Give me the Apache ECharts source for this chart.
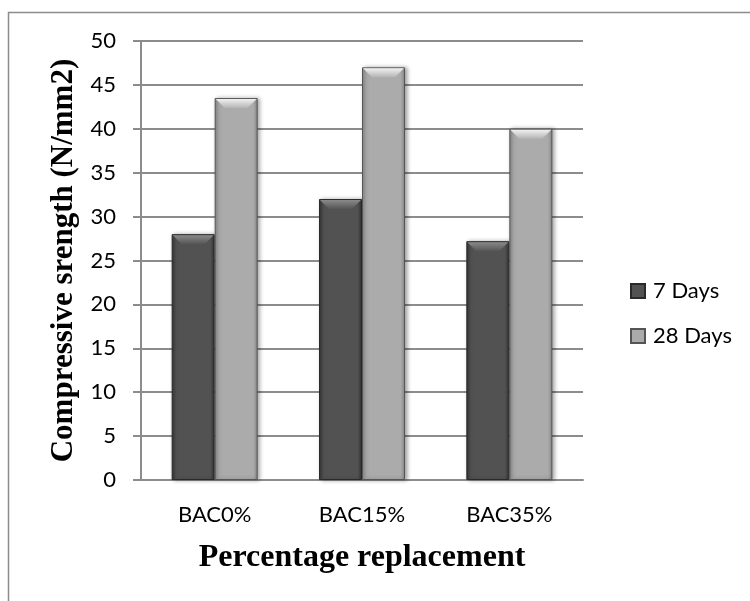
<!DOCTYPE html>
<html>
<head>
<meta charset="utf-8">
<script src="https://cdn.jsdelivr.net/npm/echarts@6/dist/echarts.min.js"></script>
<style>
  html, body { margin: 0; padding: 0; background: #fff; }
  #chart { width: 750px; height: 601px; }
</style>
</head>
<body>
<div id="chart"></div>
<script>
// Compressive strength of concrete mixes by bacteria replacement level
var categories = ['BAC0%', 'BAC15%', 'BAC35%'];
var days7 = [28, 32, 27.2];
var days28 = [43.5, 47, 40];
var yTicks = { min: 0, max: 50, interval: 5 };
var seriesNames = ['7 Days', '28 Days'];

var BAR_W = 43;

var chart = echarts.init(document.getElementById('chart'));

function barFill(edge, mid) {
  return new echarts.graphic.LinearGradient(0, 0, 1, 0, [
    { offset: 0, color: edge },
    { offset: 0.1, color: mid },
    { offset: 0.9, color: mid },
    { offset: 1, color: edge }
  ]);
}

// Bevelled cap drawn on top of each bar; side: -1 = left bar of the pair, +1 = right bar
function bevelSeries(values, side, topColor, bottomColor) {
  return {
    type: 'custom',
    silent: true,
    z: 3,
    data: values.map(function (v, i) { return [i, v]; }),
    encode: { x: 0, y: 1 },
    renderItem: function (params, api) {
      var c = api.coord([api.value(0), api.value(1)]);
      var x0 = side < 0 ? c[0] - BAR_W : c[0];
      var x1 = x0 + BAR_W;
      var y = c[1];
      var b = 10;
      return {
        type: 'polygon',
        shape: { points: [[x0 + 1, y + 1], [x1 - 1, y + 1], [x1 - b, y + b], [x0 + b, y + b]] },
        style: {
          fill: new echarts.graphic.LinearGradient(0, 0, 0, 1, [
            { offset: 0, color: topColor },
            { offset: 1, color: bottomColor }
          ])
        }
      };
    }
  };
}

var option = {
  backgroundColor: '#fff',
  animation: false,
  grid: { left: 141, right: 167, top: 41, bottom: 121 },
  graphic: [{
    type: 'rect',
    shape: { x: 8.5, y: 12.5, width: 900, height: 800 },
    style: { fill: 'none', stroke: '#8c8c8c', lineWidth: 1.5 },
    z: -1
  }],
  legend: {
    data: seriesNames,
    orient: 'vertical',
    left: 625,
    top: 275,
    icon: 'rect',
    itemWidth: 14,
    itemHeight: 14,
    itemGap: 23,
    textStyle: { fontFamily: 'Lato', fontSize: 22, lineHeight: 22, color: '#000', padding: [0, 0, 0, 3] }
  },
  xAxis: {
    type: 'category',
    data: categories,
    name: 'Percentage replacement',
    nameLocation: 'middle',
    nameGap: 62,
    nameTextStyle: { fontFamily: 'Liberation Serif', fontWeight: 'bold', fontSize: 32, color: '#000' },
    axisLine: { show: true, lineStyle: { color: '#8c8c8c', width: 2 } },
    axisTick: { show: false },
    axisLabel: { margin: 24, fontFamily: 'Lato', fontSize: 22, color: '#000' }
  },
  yAxis: {
    type: 'value',
    min: yTicks.min,
    max: yTicks.max,
    interval: yTicks.interval,
    name: 'Compressive srength (N/mm2)',
    nameLocation: 'middle',
    nameGap: 61,
    nameRotate: 90,
    nameTextStyle: { fontFamily: 'Liberation Serif', fontWeight: 'bold', fontSize: 31, color: '#000' },
    axisLine: { show: true, lineStyle: { color: '#8c8c8c', width: 2 } },
    axisTick: { show: true, length: 8, lineStyle: { color: '#8c8c8c', width: 2 } },
    axisLabel: { margin: 25, fontFamily: 'Lato', fontSize: 22, color: '#000' },
    splitLine: { show: true, lineStyle: { color: '#8c8c8c', width: 2 } }
  },
  series: [
    {
      name: seriesNames[0],
      type: 'bar',
      data: days7,
      barWidth: BAR_W,
      barGap: '0%',
      color: '#4f4f4f',
      itemStyle: {
        color: barFill('#333333', '#525252'),
        borderColor: '#2a2a2a',
        borderWidth: 1,
        shadowColor: 'rgba(0,0,0,0.35)',
        shadowBlur: 4,
        shadowOffsetX: 2
      }
    },
    {
      name: seriesNames[1],
      type: 'bar',
      data: days28,
      barWidth: BAR_W,
      barGap: '0%',
      color: '#a9a9a9',
      itemStyle: {
        color: barFill('#888888', '#ababab'),
        borderColor: '#555555',
        borderWidth: 1,
        shadowColor: 'rgba(0,0,0,0.35)',
        shadowBlur: 4,
        shadowOffsetX: 2
      }
    },
    bevelSeries(days7, -1, '#8a8a8a', '#555555'),
    bevelSeries(days28, 1, '#f0f0f0', '#b4b4b4')
  ]
};

chart.setOption(option);
</script>
</body>
</html>
